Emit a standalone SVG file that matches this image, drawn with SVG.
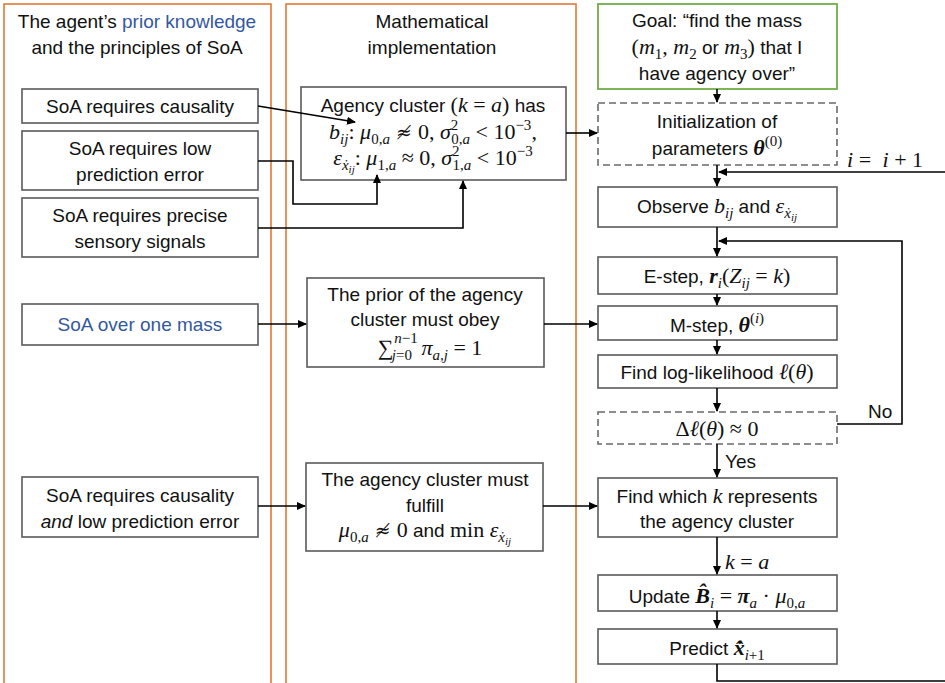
<svg xmlns="http://www.w3.org/2000/svg" width="945" height="683" viewBox="0 0 945 683">
  <style>
    .panel { fill: none; stroke: #E07A34; stroke-width: 1.6; }
    .box { fill: #fff; stroke: #5a5a5a; stroke-width: 1.6; }
    .dash { fill: #fff; stroke: #6a6a6a; stroke-width: 1.6; stroke-dasharray: 7 4; }
    .goal { fill: #fff; stroke: #70AD47; stroke-width: 1.8; }
    .t { font-family: "Liberation Sans", Arial, sans-serif; font-size: 19px; fill: #111; text-anchor: middle; }
    .l { font-family: "Liberation Sans", Arial, sans-serif; font-size: 19px; fill: #111; }
    .blue { fill: #34589E; }
    .m { font-family: "Liberation Serif", "DejaVu Serif", serif; font-style: italic; font-size: 22px; }
    .r { font-family: "Liberation Serif", "DejaVu Serif", serif; font-style: normal; font-size: 22px; }
    .b { font-family: "Liberation Serif", "DejaVu Serif", serif; font-style: italic; font-weight: bold; font-size: 22px; }
    .ne { font-family: "DejaVu Serif", serif; font-style: normal; font-size: 19px; }
    .s { font-size: 15px; }
    .ss { font-size: 11px; }
    .wire { fill: none; stroke: #000; stroke-width: 1.6; }
    .arrow { fill: none; stroke: #000; stroke-width: 1.6; marker-end: url(#ah); }
  </style>
  <defs>
    <marker id="ah" markerUnits="userSpaceOnUse" markerWidth="9" markerHeight="8" refX="8" refY="4" orient="auto">
      <path d="M0,0 L9,4 L0,8 z" fill="#000"/>
    </marker>
  </defs>

  <rect width="945" height="683" fill="#fff"/>

  <!-- column frames -->
  <g id="panel-prior">
    <rect class="panel" x="4" y="4" width="267" height="690"/>
    <text class="t" x="137" y="28">The agent’s <tspan class="blue">prior knowledge</tspan></text>
    <text class="t" x="137" y="54">and the principles of SoA</text>
  </g>
  <g id="panel-math">
    <rect class="panel" x="286" y="4" width="290" height="690"/>
    <text class="t" x="432" y="28">Mathematical</text>
    <text class="t" x="432" y="54">implementation</text>
  </g>

  <!-- left column -->
  <g id="causality">
    <rect class="box" x="22" y="89" width="236" height="34"/>
    <text class="t" x="140" y="113">SoA requires causality</text>
  </g>
  <g id="low-error">
    <rect class="box" x="22" y="131" width="236" height="59"/>
    <text class="t" x="140" y="155">SoA requires low</text>
    <text class="t" x="140" y="181">prediction error</text>
  </g>
  <g id="precise">
    <rect class="box" x="22" y="198" width="236" height="59"/>
    <text class="t" x="140" y="222">SoA requires precise</text>
    <text class="t" x="140" y="248">sensory signals</text>
  </g>
  <g id="one-mass">
    <rect class="box" x="22" y="304" width="236" height="41"/>
    <text class="t blue" x="140" y="331">SoA over one mass</text>
  </g>
  <g id="causality-and-error">
    <rect class="box" x="22" y="477" width="236" height="60"/>
    <text class="t" x="140" y="502">SoA requires causality</text>
    <text class="t" x="140" y="528"><tspan font-style="italic">and</tspan> low prediction error</text>
  </g>

  <!-- middle column -->
  <g id="agency-cluster">
    <rect class="box" x="301" y="87" width="265" height="93"/>
    <text class="t" x="433" y="112">Agency cluster <tspan class="r">(</tspan><tspan class="m">k</tspan><tspan class="r"> = </tspan><tspan class="m">a</tspan><tspan class="r">)</tspan> has</text>
    <text class="t" x="433" y="139"><tspan class="m">b</tspan><tspan class="m s" dy="5">ij</tspan><tspan class="r" dy="-5">: </tspan><tspan class="m">μ</tspan><tspan class="r s" dy="5">0,</tspan><tspan class="m s">a</tspan><tspan class="ne" dy="-5"> ≉ </tspan><tspan class="r">0, </tspan><tspan class="m">σ</tspan><tspan class="r s" dy="-9">2</tspan><tspan class="r s" dx="-7" dy="14">0,</tspan><tspan class="m s">a</tspan><tspan class="r" dy="-5"> &lt; 10</tspan><tspan class="r s" dy="-9">−3</tspan><tspan class="r" dy="9">,</tspan></text>
    <text class="t" x="433" y="165"><tspan class="m">ε</tspan><tspan class="m s" dy="5">ẋ</tspan><tspan class="m ss" dy="3">ij</tspan><tspan class="r" dy="-8">: </tspan><tspan class="m">μ</tspan><tspan class="r s" dy="5">1,</tspan><tspan class="m s">a</tspan><tspan class="r" dy="-5"> ≈ 0, </tspan><tspan class="m">σ</tspan><tspan class="r s" dy="-9">2</tspan><tspan class="r s" dx="-7" dy="14">1,</tspan><tspan class="m s">a</tspan><tspan class="r" dy="-5"> &lt; 10</tspan><tspan class="r s" dy="-9">−3</tspan></text>
  </g>
  <g id="prior-sum">
    <rect class="box" x="307" y="278" width="237" height="89"/>
    <text class="t" x="425" y="301">The prior of the agency</text>
    <text class="t" x="425" y="326">cluster must obey</text>
    <text class="t" x="430" y="355"><tspan class="r" font-size="28px">∑</tspan><tspan class="m s" dx="1" dy="-12">n</tspan><tspan class="r s">−1</tspan><tspan class="m s" dx="-26" dy="17">j</tspan><tspan class="r s">=0</tspan><tspan class="m" dx="4" dy="-5"> π</tspan><tspan class="m s" dy="5">a,j</tspan><tspan class="r" dy="-5"> = 1</tspan></text>
  </g>
  <g id="fulfill">
    <rect class="box" x="306" y="463" width="237" height="88"/>
    <text class="t" x="425" y="486">The agency cluster must</text>
    <text class="t" x="425" y="512">fulfill</text>
    <text class="t" x="425" y="537"><tspan class="m">μ</tspan><tspan class="r s" dy="5">0,</tspan><tspan class="m s">a</tspan><tspan class="ne" dy="-5"> ≉ </tspan><tspan class="r">0</tspan> and <tspan class="r">min </tspan><tspan class="m">ε</tspan><tspan class="m s" dy="5">ẋ</tspan><tspan class="m ss" dy="3">ij</tspan></text>
  </g>

  <!-- right column: EM procedure -->
  <g id="goal">
    <rect class="goal" x="598" y="4" width="239" height="85"/>
    <text class="t" x="717" y="27">Goal: “find the mass</text>
    <text class="t" x="717" y="54"><tspan class="r">(</tspan><tspan class="m">m</tspan><tspan class="r s" dy="5">1</tspan><tspan class="r" dy="-5">, </tspan><tspan class="m">m</tspan><tspan class="r s" dy="5">2</tspan><tspan dy="-5"> or </tspan><tspan class="m">m</tspan><tspan class="r s" dy="5">3</tspan><tspan class="r" dy="-5">)</tspan> that I</text>
    <text class="t" x="717" y="80">have agency over”</text>
  </g>
  <g id="init">
    <rect class="dash" x="598" y="103" width="239" height="62"/>
    <text class="t" x="717" y="128">Initialization of</text>
    <text class="t" x="717" y="155">parameters <tspan class="b">θ</tspan><tspan class="r s" dy="-9">(0)</tspan></text>
  </g>
  <g id="observe">
    <rect class="box" x="598" y="187" width="239" height="40"/>
    <text class="t" x="717" y="213">Observe <tspan class="m">b</tspan><tspan class="m s" dy="5">ij</tspan><tspan dy="-5"> and </tspan><tspan class="m">ε</tspan><tspan class="m s" dy="5">ẋ</tspan><tspan class="m ss" dy="3">ij</tspan></text>
  </g>
  <g id="e-step">
    <rect class="box" x="598" y="257" width="239" height="37"/>
    <text class="t" x="717" y="283">E-step, <tspan class="b">r</tspan><tspan class="m s" dy="5">i</tspan><tspan class="r" dy="-5" font-size="25px">(</tspan><tspan class="m">Z</tspan><tspan class="m s" dy="5">ij</tspan><tspan class="r" dy="-5"> = </tspan><tspan class="m">k</tspan><tspan class="r" font-size="25px">)</tspan></text>
  </g>
  <g id="m-step">
    <rect class="box" x="598" y="306" width="239" height="34"/>
    <text class="t" x="717" y="332">M-step, <tspan class="b">θ</tspan><tspan class="r s" dy="-9">(</tspan><tspan class="m s">i</tspan><tspan class="r s">)</tspan></text>
  </g>
  <g id="log-likelihood">
    <rect class="box" x="598" y="355" width="239" height="33"/>
    <text class="t" x="717" y="379">Find log-likelihood <tspan class="m">ℓ</tspan><tspan class="r">(</tspan><tspan class="m">θ</tspan><tspan class="r">)</tspan></text>
  </g>
  <g id="converged">
    <rect class="dash" x="598" y="412" width="239" height="32"/>
    <text class="t" x="717" y="436"><tspan class="r">Δ</tspan><tspan class="m">ℓ</tspan><tspan class="r">(</tspan><tspan class="m">θ</tspan><tspan class="r">) ≈ 0</tspan></text>
  </g>
  <g id="find-k">
    <rect class="box" x="598" y="478" width="239" height="59"/>
    <text class="t" x="717" y="503">Find which <tspan class="m">k</tspan> represents</text>
    <text class="t" x="717" y="528">the agency cluster</text>
  </g>
  <g id="update">
    <rect class="box" x="598" y="575" width="239" height="36"/>
    <text class="t" x="717" y="603">Update <tspan class="b">B̂</tspan><tspan class="m s" dy="5">i</tspan><tspan class="r" dy="-5"> = </tspan><tspan class="b">π</tspan><tspan class="m s" dy="5">a</tspan><tspan class="r" dy="-5"> · </tspan><tspan class="m">μ</tspan><tspan class="r s" dy="5">0,</tspan><tspan class="m s">a</tspan></text>
  </g>
  <g id="predict">
    <rect class="box" x="598" y="629" width="239" height="35"/>
    <text class="t" x="717" y="655">Predict <tspan class="b">x̂̇</tspan><tspan class="m s" dy="5">i</tspan><tspan class="r s">+1</tspan></text>
  </g>

  <!-- connectors -->
  <g id="connectors">
    <path class="arrow" d="M258,106 L355,122"/>
    <path class="arrow" d="M258,161 H293 V204 H377 V175"/>
    <path class="arrow" d="M258,228 H463 V181"/>
    <path class="arrow" d="M566,133 H597"/>
    <path class="arrow" d="M258,324 H306"/>
    <path class="arrow" d="M544,324 H597"/>
    <path class="arrow" d="M258,506 H305"/>
    <path class="arrow" d="M543,506 H597"/>
    <path class="arrow" d="M717,89 V102"/>
    <path class="arrow" d="M717,165 V186"/>
    <path class="arrow" d="M945,172 H719"/>
    <path class="arrow" d="M717,227 V256"/>
    <path class="arrow" d="M837,424 H902 V241 H719"/>
    <path class="arrow" d="M717,294 V305"/>
    <path class="arrow" d="M717,340 V354"/>
    <path class="arrow" d="M717,388 V411"/>
    <path class="arrow" d="M717,444 V477"/>
    <path class="arrow" d="M717,537 V574"/>
    <path class="arrow" d="M717,611 V628"/>
    <path class="wire" d="M717,664 V681 H945"/>
    <text class="l" x="868" y="418">No</text>
    <text class="l" x="725" y="468">Yes</text>
    <text class="l" x="725" y="569"><tspan class="m">k</tspan><tspan class="r"> = </tspan><tspan class="m">a</tspan></text>
    <text class="l" x="847" y="167"><tspan class="m">i</tspan><tspan class="r"> = </tspan><tspan class="m" dx="6">i</tspan><tspan class="r"> + 1</tspan></text>
  </g>
</svg>
